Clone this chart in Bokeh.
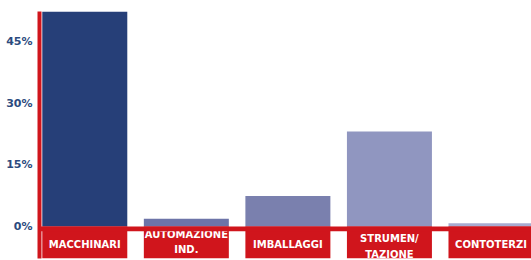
from bokeh.plotting import figure
from bokeh.models import ColumnDataSource, FixedTicker, PrintfTickFormatter, BoxAnnotation, Range1d
from bokeh.core.properties import value
from bokeh.embed import file_html
from bokeh.resources import INLINE

categories = ["MACCHINARI", "AUTOMAZIONE\nIND.", "IMBALLAGGI", "STRUMEN/\nTAZIONE", "CONTOTERZI"]
shares = [52.3, 1.9, 7.4, 23.1, 0.8]
bar_colors = ["#263f78", "#6d74a8", "#7a80ae", "#9096c0", "#a7abd0"]
tick_values = [0, 15, 30, 45]

RED = "#d0151c"
NAVY = "#2c4a7e"

y_top = max(shares)
y_bottom = -7.8

p = figure(width=531, height=260, output_backend="svg", toolbar_location=None,
           x_range=Range1d(-0.446, 4.399), y_range=Range1d(y_bottom, y_top),
           min_border_left=39, min_border_right=0, min_border_top=11, min_border_bottom=2,
           background_fill_color="white", border_fill_color="white", outline_line_color=None)
p.xaxis.visible = False
p.xgrid.visible = False
p.ygrid.visible = False

yax = p.yaxis[0]
yax.ticker = FixedTicker(ticks=tick_values)
yax.formatter = PrintfTickFormatter(format="%d%%")
yax.axis_line_color = RED
yax.axis_line_width = 4
yax.major_tick_line_color = None
yax.minor_tick_line_color = None
yax.major_label_standoff = 1
yax.major_label_text_font = "DejaVu Sans"
yax.major_label_text_font_style = "bold"
yax.major_label_text_font_size = "11px"
yax.major_label_text_color = NAVY

idx = list(range(len(categories)))
src = ColumnDataSource(dict(x=idx, top=shares, color=bar_colors, label=categories,
                            yoff=[18.5 if "\n" not in c else (15.5 if c.startswith("AUTO") else 20) for c in categories]))

bw = 0.837
p.vbar(x="x", top="top", bottom=0, width=bw, fill_color="color", line_color=None, source=src)

# red label boxes below the baseline
p.vbar(x="x", top=0, bottom=y_bottom, width=bw, fill_color=RED, line_color=None, source=src)
p.add_layout(BoxAnnotation(top=0, bottom=-1.15, fill_color=RED, fill_alpha=1, line_color=None))

p.text(x="x", y=0, text="label", y_offset="yoff", source=src,
       text_align="center", text_baseline="middle", text_color="white",
       text_font=value("DejaVu Sans"), text_font_style="bold", text_font_size="10px",
       text_line_height=1.4)

open("out.html", "w").write(file_html(p, INLINE))
